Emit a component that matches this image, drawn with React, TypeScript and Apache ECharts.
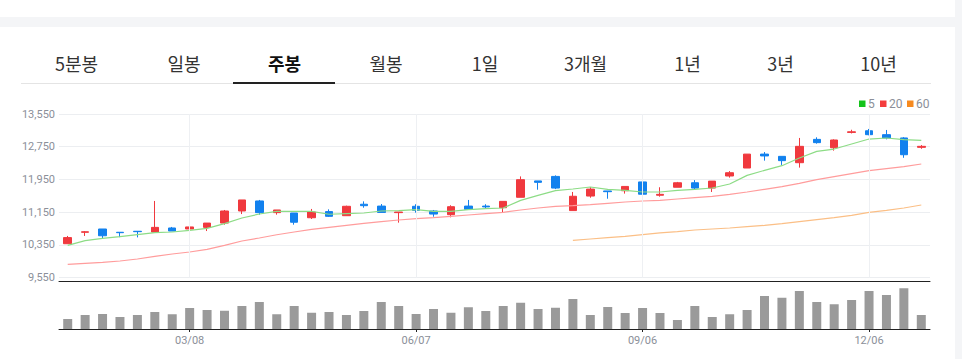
import React, { useEffect, useRef } from 'react';
import * as echarts from 'echarts';

const categories = [
  '01/18', '01/25', '02/01', '02/08', '02/15', '02/22', '03/01', '03/08', '03/15', '03/22',
  '03/29', '04/05', '04/12', '04/19', '04/26', '05/03', '05/10', '05/17', '05/24', '05/31',
  '06/07', '06/14', '06/21', '06/28', '07/05', '07/12', '07/19', '07/26', '08/02', '08/09',
  '08/16', '08/23', '08/30', '09/06', '09/13', '09/20', '09/27', '10/04', '10/11', '10/18',
  '10/25', '11/01', '11/08', '11/15', '11/22', '11/29', '12/06', '12/13', '12/20', '12/27',
];
const labelDates = ['03/08', '06/07', '09/06', '12/06'];

const opens = [
  10380, 10660, 10740, 10660, 10685, 10665, 10765, 10740, 10780, 10885,
  11180, 11425, 11140, 11130, 11015, 11165, 11065, 11345, 11300, 11140,
  11295, 11180, 11090, 11300, 11300, 11260, 11515, 11915, 12025, 11190,
  11545, 11670, 11675, 11890, 11565, 11760, 11870, 11740, 12035, 12230,
  12570, 12515, 12360, 12930, 12725, 13100, 13140, 13045, 12965, 12735,
];
const closes = [
  10530, 10672, 10575, 10650, 10675, 10780, 10690, 10790, 10885, 11180,
  11450, 11140, 11205, 10905, 11155, 11050, 11295, 11310, 11145, 11155,
  11195, 11105, 11285, 11220, 11280, 11415, 11945, 11880, 11740, 11540,
  11715, 11652, 11780, 11590, 11587, 11870, 11740, 11910, 12115, 12570,
  12525, 12410, 12760, 12850, 12915, 13115, 13045, 12965, 12555, 12760,
];
const lows = [
  10380, 10570, 10520, 10540, 10535, 10650, 10690, 10705, 10690, 10845,
  11105, 11090, 11090, 10845, 10985, 11035, 11065, 11260, 11145, 10895,
  11140, 11040, 11025, 11220, 11230, 11140, 11515, 11700, 11715, 11190,
  11505, 11480, 11605, 11590, 11530, 11760, 11715, 11645, 11995, 12230,
  12410, 12305, 12240, 12825, 12655, 13075, 13030, 12930, 12480, 12700,
];
const highs = [
  10570, 10690, 10740, 10665, 10690, 11425, 10790, 10820, 10885, 11205,
  11450, 11450, 11205, 11130, 11230, 11220, 11310, 11415, 11350, 11155,
  11345, 11205, 11320, 11450, 11345, 11415, 12025, 11915, 12050, 11645,
  11765, 11670, 11780, 11915, 11760, 11890, 11935, 11910, 12155, 12570,
  12620, 12515, 12965, 12980, 12930, 13165, 13185, 13160, 12985, 12790,
];

const ma5 = [
  10341, 10455, 10512, 10553, 10602, 10650, 10667, 10707, 10756, 10870,
  11009, 11106, 11172, 11172, 11172, 11100, 11115, 11131, 11180, 11188,
  11212, 11172, 11172, 11212, 11237, 11253, 11440, 11563, 11677, 11717,
  11766, 11709, 11685, 11644, 11644, 11685, 11709, 11742, 11839, 12051,
  12173, 12287, 12474, 12637, 12694, 12816, 12938, 12963, 12922, 12906,
];
const ma20 = [
  9877, 9901, 9926, 9958, 10007, 10072, 10129, 10178, 10243, 10341,
  10447, 10520, 10600, 10667, 10732, 10781, 10830, 10878, 10919, 10960,
  10992, 11017, 11049, 11082, 11115, 11147, 11204, 11253, 11294, 11310,
  11335, 11367, 11400, 11424, 11440, 11473, 11506, 11538, 11587, 11644,
  11709, 11774, 11855, 11945, 12018, 12092, 12165, 12214, 12263, 12328,
];
const ma60: (number | string)[] = [
  '-', '-', '-', '-', '-', '-', '-', '-', '-', '-',
  '-', '-', '-', '-', '-', '-', '-', '-', '-', '-',
  '-', '-', '-', '-', '-', '-', '-', '-', '-', 10463,
  10496, 10528, 10561, 10602, 10643, 10675, 10716, 10740, 10764, 10797,
  10829, 10870, 10919, 10968, 11017, 11074, 11147, 11196, 11253, 11326,
];
const volumes = [
  200, 280, 300, 240, 280, 340, 295, 420, 380, 365,
  460, 540, 295, 460, 325, 340, 280, 360, 540, 460,
  300, 400, 325, 435, 360, 460, 525, 400, 425, 600,
  280, 440, 320, 420, 320, 180, 460, 240, 295, 380,
  660, 625, 760, 540, 495, 580, 760, 680, 815, 280,
];

const priceAxis = { min: 9550, max: 13550, step: 800 };
const volumeMax = 940;

const maNames = ['5', '20', '60'];
const maLineColors = ['#8ddc86', '#ff9c9c', '#fbbf86'];
const maLegendColors = ['#14c31a', '#f43d3d', '#f68a1f'];

const tabLabels = ['5분봉', '일봉', '주봉', '월봉', '1일', '3개월', '1년', '3년', '10년'];
const activeTab = '주봉';
const tabCenters = [76.5, 184, 284.5, 386, 485, 585.5, 687.5, 780.5, 878.5];

const UP = '#f0393e';
const DOWN = '#1281ee';
const AXIS_TEXT = '#8b8f99';

export default function App() {
  const ref = useRef<HTMLDivElement>(null);

  useEffect(() => {
    if (!ref.current) return;
    const chart = echarts.init(ref.current, undefined, { renderer: 'svg' });
    const isLabel = (index: number) => labelDates.includes(categories[index]);

    const legendX = [859, 880, 907];
    const legendGraphics: any[] = [];
    maNames.forEach((n, i) => {
      legendGraphics.push({
        type: 'rect',
        shape: { x: legendX[i], y: 100.5, width: 6.5, height: 6.5 },
        style: { fill: maLegendColors[i] },
        silent: true,
      });
      legendGraphics.push({
        type: 'text',
        x: legendX[i] + 9,
        y: 104,
        style: {
          text: n,
          fill: AXIS_TEXT,
          font: '12px Roboto, sans-serif',
          verticalAlign: 'middle',
          align: 'left',
        },
        silent: true,
      });
    });

    const option: any = {
      animation: false,
      backgroundColor: 'transparent',
      textStyle: { fontFamily: 'Roboto, sans-serif' },
      grid: [
        { left: 59, right: 32, top: 114, height: 163.7 },
        { left: 59, right: 32, top: 282, height: 47 },
      ],
      xAxis: [
        {
          type: 'category',
          gridIndex: 0,
          data: categories,
          boundaryGap: true,
          offset: 4,
          axisLine: { show: true, lineStyle: { color: '#222', width: 1 } },
          axisTick: { show: false },
          axisLabel: { show: false },
          splitLine: { show: false },
        },
        {
          type: 'category',
          gridIndex: 1,
          data: categories,
          boundaryGap: true,
          axisLine: { show: true, lineStyle: { color: '#222', width: 1 } },
          axisTick: {
            show: true,
            alignWithLabel: true,
            length: 3,
            interval: (index: number) => isLabel(index),
            lineStyle: { color: '#222' },
          },
          axisLabel: {
            interval: (index: number) => isLabel(index),
            color: AXIS_TEXT,
            fontSize: 11,
            margin: 6,
            fontFamily: 'Roboto, sans-serif',
          },
          splitLine: { show: false },
        },
      ],
      yAxis: [
        {
          type: 'value',
          gridIndex: 0,
          min: priceAxis.min,
          max: priceAxis.max,
          interval: priceAxis.step,
          axisLine: { show: false },
          axisTick: { show: false },
          axisLabel: {
            color: AXIS_TEXT,
            fontSize: 11,
            margin: 4,
            fontFamily: 'Roboto, sans-serif',
            formatter: (v: number) => v.toLocaleString('en-US'),
          },
          splitLine: { show: true, lineStyle: { color: '#eceef1', width: 1 } },
        },
        {
          type: 'value',
          gridIndex: 1,
          min: 0,
          max: volumeMax,
          show: false,
          splitLine: { show: false },
        },
      ],
      graphic: legendGraphics,
      series: [
        {
          type: 'line',
          name: 'grid-v',
          xAxisIndex: 0,
          yAxisIndex: 0,
          z: 1,
          data: categories.map(() => '-'),
          silent: true,
          markLine: {
            silent: true,
            symbol: ['none', 'none'],
            label: { show: false },
            lineStyle: { color: '#eef0f3', width: 1, type: 'solid' },
            data: labelDates.map((d) => ({ xAxis: d })),
          },
        },
        {
          type: 'candlestick',
          xAxisIndex: 0,
          yAxisIndex: 0,
          z: 3,
          barWidth: 8,
          data: categories.map((_, i) => [opens[i], closes[i], lows[i], highs[i]]),
          itemStyle: {
            color: UP,
            color0: DOWN,
            borderColor: UP,
            borderColor0: DOWN,
            borderWidth: 1,
          },
        },
        ...[ma5, ma20, ma60].map((d, i) => ({
          type: 'line',
          name: maNames[i],
          xAxisIndex: 0,
          yAxisIndex: 0,
          z: 4,
          data: d,
          showSymbol: false,
          symbol: 'none',
          smooth: false,
          lineStyle: { color: maLineColors[i], width: 1.2 },
          silent: true,
        })),
        {
          type: 'bar',
          xAxisIndex: 1,
          yAxisIndex: 1,
          barWidth: 9,
          data: volumes,
          itemStyle: { color: '#9a9a9a' },
          silent: true,
        },
      ],
    };

    chart.setOption(option);
    return () => chart.dispose();
  }, []);

  return (
    <div
      style={{
        position: 'fixed',
        left: 0,
        top: 0,
        width: 962,
        height: 359,
        background: '#f4f5f7',
        overflow: 'hidden',
      }}
    >
      <div style={{ position: 'absolute', left: 0, top: 0, width: 955, height: 17, background: '#fff' }} />
      <div style={{ position: 'absolute', left: 0, top: 27, width: 955, height: 332, background: '#fff' }} />
      {tabLabels.map((t, i) => (
        <div
          key={t}
          style={{
            position: 'absolute',
            left: tabCenters[i] - 60,
            top: 50,
            width: 120,
            height: 26,
            lineHeight: '26px',
            textAlign: 'center',
            fontFamily: '"Noto Sans CJK KR", "Noto Sans", sans-serif',
            fontSize: 18,
            fontWeight: t === activeTab ? 700 : 400,
            color: t === activeTab ? '#111' : '#333',
            whiteSpace: 'nowrap',
          }}
        >
          {t}
        </div>
      ))}
      <div style={{ position: 'absolute', left: 21, top: 83, width: 910, height: 1, background: '#e4e4e4' }} />
      <div style={{ position: 'absolute', left: 233, top: 82, width: 102, height: 2, background: '#222' }} />
      <div ref={ref} style={{ position: 'absolute', left: 0, top: 0, width: 962, height: 359 }} />
    </div>
  );
}
